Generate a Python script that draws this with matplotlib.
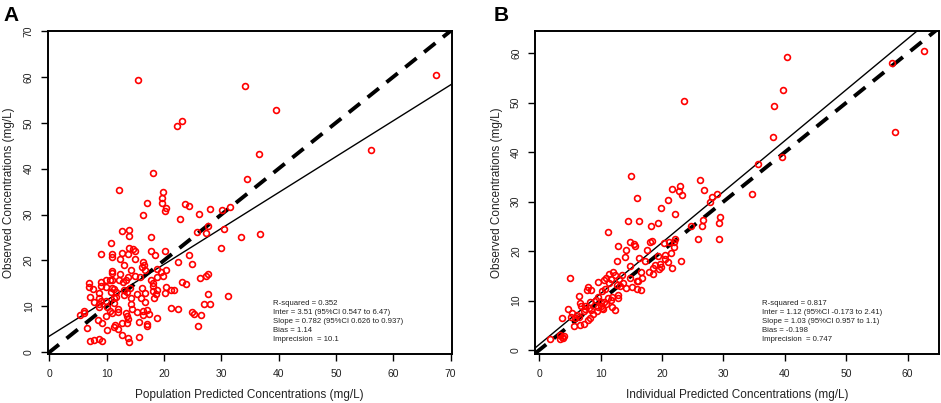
import matplotlib
matplotlib.use("Agg")
import matplotlib.pyplot as plt
import numpy as np

plt.rcParams["font.family"] = ["Liberation Sans", "DejaVu Sans"]

# Panel A: population predicted vs observed (mg/L)
pop_pred = [15.5, 34.1, 39.6, 22.2, 23.1, 67.4, 56.2, 36.6, 18.0, 34.4, 12.2, 19.8, 19.6,
            17.1, 19.7, 20.3, 20.1, 16.4, 23.6, 24.3, 22.8, 26.1, 28.0, 30.1, 31.5, 27.7,
            27.4, 25.8, 30.4, 33.5, 36.8, 30.0, 12.7, 13.9, 13.9, 10.7, 17.8, 13.8, 14.5,
            15.0, 13.7, 12.7, 11.0, 9.0, 11.0, 12.4, 14.9, 17.8, 18.4, 20.1, 24.3, 22.4,
            24.9, 16.3, 16.5, 16.1, 13.0, 11.0, 11.0, 14.2, 12.4, 16.6, 18.7, 19.4, 20.3,
            27.6, 27.3, 26.3, 23.1, 23.8, 21.2, 21.7, 20.3, 19.9, 18.7, 17.7, 18.0, 18.0,
            15.8, 14.9, 13.7, 13.3, 12.8, 12.1, 11.0, 10.5, 9.9, 9.0, 6.9, 6.9, 7.6, 9.0,
            9.9, 10.9, 11.3, 10.7, 11.6, 13.0, 14.1, 16.1, 18.0, 18.7, 16.7, 18.6, 20.1,
            15.3, 13.5, 13.1, 8.6, 7.1, 7.8, 8.6, 9.0, 8.6, 9.8, 11.2, 11.7, 14.3, 15.9,
            16.7, 18.3, 14.3, 11.3, 8.6, 10.1, 10.6, 9.9, 11.0, 12.0, 11.9, 13.3, 14.4,
            15.3, 16.3, 17.0, 17.3, 16.3, 13.5, 13.7, 18.7, 21.3, 22.5, 24.8, 25.2, 26.5,
            26.9, 28.1, 27.7, 31.2, 25.9, 17.1, 17.0, 15.6, 13.5, 12.6, 11.5, 11.9, 11.3,
            9.2, 8.5, 6.6, 5.4, 6.0, 6.0, 10.0, 12.7, 15.7, 13.7, 13.9, 7.1, 7.8, 8.7, 9.2]
obs_a = [59.3, 58.1, 52.7, 49.3, 50.3, 60.5, 44.1, 43.2, 39.1, 37.8, 35.4, 34.8, 33.5,
         32.6, 32.6, 31.5, 30.7, 29.9, 32.2, 31.8, 29.0, 30.1, 31.1, 30.9, 31.7, 27.6,
         25.9, 26.2, 26.9, 25.1, 25.7, 22.6, 26.4, 26.6, 25.3, 23.9, 25.1, 22.7, 22.5,
         22.0, 21.4, 21.7, 21.5, 21.5, 20.8, 20.4, 20.2, 22.0, 21.1, 22.0, 21.1, 19.6,
         19.2, 19.6, 18.9, 18.5, 18.9, 17.7, 17.3, 17.8, 17.1, 17.9, 18.2, 17.5, 17.8,
         17.0, 16.7, 16.1, 15.2, 14.9, 13.6, 13.6, 14.1, 16.7, 16.3, 15.7, 15.1, 14.4,
         16.3, 16.6, 16.4, 15.7, 15.3, 15.7, 15.7, 15.7, 15.7, 15.4, 15.0, 14.1, 13.7,
         14.4, 14.1, 14.0, 13.7, 13.1, 13.1, 13.6, 14.0, 14.0, 13.4, 13.6, 13.0, 12.7,
         12.8, 12.7, 13.1, 12.4, 12.8, 12.0, 10.9, 11.7, 11.2, 10.4, 11.1, 11.7, 12.0,
         11.8, 11.7, 10.9, 11.7, 10.5, 10.7, 9.9, 9.8, 8.9, 7.9, 8.5, 8.8, 9.5, 8.5, 9.3,
         8.8, 8.9, 9.2, 8.3, 8.0, 7.8, 7.3, 7.5, 9.6, 9.4, 8.7, 8.3, 8.0, 10.6, 10.5,
         12.7, 12.2, 5.8, 6.2, 5.7, 6.5, 6.3, 6.3, 6.0, 5.1, 5.4, 6.3, 7.0, 5.3, 8.0, 8.9,
         8.5, 4.8, 3.8, 3.4, 3.0, 2.2, 2.5, 2.7, 2.8, 2.4]

# Panel B: individual predicted vs observed (mg/L)
ind_pred = [14.9, 16.0, 21.0, 21.6, 22.9, 22.8, 23.2, 23.6, 26.2, 26.9, 28.2, 29.0, 27.8,
            34.6, 35.7, 38.0, 38.2, 39.7, 40.3, 39.6, 57.4, 58.0, 62.6, 19.8, 22.1, 14.4,
            16.2, 19.4, 18.2, 11.2, 29.5, 29.2, 26.5, 24.7, 26.7, 25.8, 29.2, 14.8, 15.5,
            15.6, 12.8, 18.0, 18.3, 20.4, 21.1, 22.1, 22.0, 22.0, 14.2, 17.5, 16.2, 14.0,
            12.6, 14.7, 17.2, 19.3, 20.5, 20.5, 20.9, 21.5, 21.7, 23.1, 19.6, 18.9, 19.5,
            19.8, 18.6, 17.8, 18.5, 16.6, 16.8, 16.0, 16.1, 16.5, 16.0, 15.1, 14.2, 13.7,
            14.7, 13.4, 12.0, 12.4, 11.3, 10.9, 10.5, 11.7, 13.0, 13.1, 12.6, 11.3, 9.5,
            10.7, 10.3, 12.8, 12.9, 11.9, 11.2, 11.7, 10.5, 10.0, 9.5, 9.3, 10.0, 10.3,
            10.4, 11.9, 12.4, 10.9, 8.3, 7.5, 8.1, 7.5, 8.4, 8.3, 8.0, 7.3, 6.8, 6.4, 6.6,
            8.0, 7.7, 8.5, 4.7, 5.4, 5.1, 3.7, 5.0, 6.2, 5.8, 5.6, 6.6, 7.3, 6.5, 1.7, 3.3,
            3.3, 3.7, 4.1, 3.9, 9.6, 9.4, 8.8]
obs_b = [35.1, 30.7, 30.4, 32.5, 33.2, 32.2, 31.3, 50.3, 34.4, 32.3, 30.9, 31.5, 29.9,
         31.6, 37.6, 43.1, 49.3, 52.5, 59.2, 39.0, 58.1, 44.0, 60.5, 28.8, 27.6, 26.0,
         26.1, 25.7, 25.0, 23.9, 26.8, 25.6, 25.1, 25.1, 26.3, 22.5, 22.5, 21.8, 21.5,
         21.0, 21.1, 21.8, 22.1, 21.7, 21.9, 22.5, 21.9, 20.9, 20.3, 20.3, 18.7, 18.9,
         17.9, 17.0, 18.0, 19.0, 19.2, 18.4, 17.7, 19.6, 16.6, 18.0, 17.3, 17.2, 16.4,
         16.8, 16.5, 15.8, 15.3, 15.8, 14.6, 14.0, 13.9, 12.1, 12.3, 12.8, 12.5, 13.6,
         14.5, 15.1, 15.8, 15.1, 15.4, 14.6, 14.2, 14.3, 14.3, 13.0, 13.2, 13.5, 13.8,
         12.4, 12.0, 11.2, 10.6, 10.8, 10.5, 10.1, 9.8, 9.7, 10.8, 10.1, 8.9, 8.5, 8.2,
         8.7, 8.0, 9.3, 9.7, 9.0, 8.5, 8.2, 8.0, 6.4, 6.0, 7.9, 8.9, 11.0, 9.5, 12.7,
         12.1, 12.1, 8.3, 7.5, 6.7, 6.5, 14.5, 7.0, 6.4, 4.9, 5.0, 5.3, 6.7, 2.3, 3.1,
         2.2, 2.6, 2.9, 2.5, 8.7, 7.8, 7.2]

stats_a = ["R-squared = 0.352",
           "Inter = 3.51 (95%CI 0.547 to 6.47)",
           "Slope = 0.782 (95%CI 0.626 to 0.937)",
           "Bias = 1.14",
           "Imprecision  = 10.1"]
stats_b = ["R-squared = 0.817",
           "Inter = 1.12 (95%CI -0.173 to 2.41)",
           "Slope = 1.03 (95%CI 0.957 to 1.1)",
           "Bias = -0.198",
           "Imprecision  = 0.747"]

fig = plt.figure(figsize=(9.41, 4.03), dpi=100)
ax_a = fig.add_axes([0.0507, 0.1216, 0.4293, 0.8015])
ax_b = fig.add_axes([0.5685, 0.1216, 0.4293, 0.8015])

panels = [
    (ax_a, pop_pred, obs_a, 3.51, 0.782, (-0.3, 70.2), (-0.4, 70.0), range(0, 71, 10),
     range(0, 71, 10), "Population Predicted Concentrations (mg/L)", stats_a, (39.0, 11.4)),
    (ax_b, ind_pred, obs_b, 1.12, 1.03, (-0.7, 65.1), (-0.8, 64.5), range(0, 61, 10),
     range(0, 61, 10), "Individual Predicted Concentrations (mg/L)", stats_b, (36.2, 10.2)),
]

for ax, x, y, inter, slope, xl, yl, xt, yt, xlab, stats, tpos in panels:
    ax.set_xlim(*xl)
    ax.set_ylim(*yl)
    xx = np.array(xl)
    # identity line (dashed) and regression fit (solid)
    ax.plot(xx, xx, color="black", lw=2.8, dashes=(3.7, 2.5), zorder=2)
    ax.plot(xx, inter + slope * xx, color="black", lw=1.0, zorder=2)
    ax.plot(x, y, "o", ms=4.2, mfc="none", mec="red", mew=1.2, zorder=3)
    ax.set_xticks(list(xt))
    ax.set_yticks(list(yt))
    ax.tick_params(direction="out", length=5, width=1, labelsize=7.5,
                   labelcolor="#222222")
    ax.tick_params(axis="x", pad=6)
    ax.tick_params(axis="y", pad=5)
    for lbl in ax.get_yticklabels():
        lbl.set_rotation(90)
        lbl.set_va("center")
    for sp in ax.spines.values():
        sp.set_linewidth(1.4)
    ax.set_xlabel(xlab, fontsize=8.5, color="#222222", labelpad=7)
    ax.set_ylabel("Observed Concentrations (mg/L)", fontsize=8.5, color="#222222",
                  labelpad=6)
    ax.text(tpos[0], tpos[1], "\n".join(stats), fontsize=5.6, va="top", ha="left",
            linespacing=1.42, color="#222222")

fig.text(0.004, 0.985, "A", fontsize=15, fontweight="bold", va="top", ha="left")
fig.text(0.525, 0.985, "B", fontsize=15, fontweight="bold", va="top", ha="left")

fig.savefig("out.png", dpi=100)
